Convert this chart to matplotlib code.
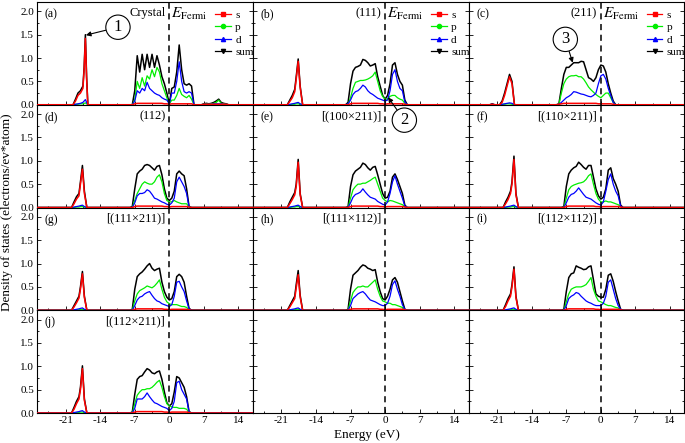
import matplotlib
matplotlib.use("Agg")
import matplotlib.pyplot as plt
from matplotlib.lines import Line2D
from matplotlib.text import Annotation
from matplotlib.ticker import MultipleLocator

plt.rcParams['font.family'] = ['Liberation Serif', 'DejaVu Serif']
plt.rcParams['mathtext.fontset'] = 'stix'
plt.rcParams['axes.unicode_minus'] = False

# ---- data (energy in eV, DOS in electrons/eV*atom) ----
# shared energy grids for the s-band peak and the valence/conduction bands
E_LOW = [-19.8, -19.3, -18.8, -18.3, -18.0, -17.6, -17.2, -16.7]
E_MAIN = [-8.0, -7.5, -7.0, -6.5, -6.0, -5.5, -5.0, -4.5, -4.0, -3.5, -3.0, -2.5, -2.0,
          -1.5, -1.0, -0.5, 0.0, 0.5, 1.0, 1.5, 2.0, 2.5, 3.0, 3.5, 4.0, 4.5]

P_LOW = [0, 0, 0.01, 0.01, 0.02, 0.02, 0.01, 0]
D_LOW = [0, 0.01, 0.02, 0.03, 0.04, 0.05, 0.02, 0]
S_MAIN = [0, 0, 0.02, 0.03, 0.03, 0.03, 0.03, 0.03, 0.03, 0.03, 0.03, 0.03, 0.03,
          0.03, 0.02, 0.02, 0.01, 0.02, 0.02, 0.02, 0.02, 0.02, 0.02, 0.02, 0.01, 0]

# (a) Crystal -- own grids
a_e_low = [-19.5, -19.0, -18.5, -18.0, -17.5, -17.25, -17.0, -16.75, -16.5]
a_sum_low = [0, 0.12, 0.25, 0.30, 0.40, 0.80, 1.50, 0.60, 0]
a_s_low = [0, 0.08, 0.20, 0.25, 0.35, 0.75, 1.42, 0.55, 0]
a_p_low = [0, 0.01, 0.01, 0.02, 0.02, 0.03, 0.04, 0.02, 0]
a_d_low = [0, 0.01, 0.02, 0.03, 0.05, 0.08, 0.11, 0.05, 0]
a_e_main = [-7.5, -7.0, -6.5, -6.0, -5.5, -5.0, -4.5, -4.0, -3.5, -3.0, -2.5, -2.0, -1.5,
            -1.0, -0.5, 0.0, 0.5, 1.0, 1.5, 2.0, 2.5, 3.0, 3.5, 4.0, 4.5, 5.0]
a_sum = [0, 0.30, 1.05, 0.70, 1.08, 0.75, 1.08, 0.80, 1.08, 0.80, 1.05, 0.85, 0.60,
         0.45, 0.25, 0.02, 0.35, 0.38, 0.70, 1.28, 0.75, 0.45, 0.42, 0.45, 0.40, 0]
a_p = [0, 0.10, 0.50, 0.35, 0.58, 0.40, 0.62, 0.55, 0.75, 0.60, 0.80, 0.70, 0.45,
       0.30, 0.15, 0.02, 0.10, 0.10, 0.20, 0.35, 0.22, 0.18, 0.15, 0.20, 0.12, 0]
a_d = [0, 0.08, 0.30, 0.25, 0.35, 0.30, 0.48, 0.35, 0.30, 0.25, 0.22, 0.20, 0.15,
       0.12, 0.10, 0.02, 0.25, 0.25, 0.50, 0.92, 0.50, 0.28, 0.25, 0.28, 0.25, 0]
a_s = [0, 0.02, 0.03, 0.03, 0.03, 0.03, 0.03, 0.03, 0.03, 0.03, 0.03, 0.03, 0.03,
       0.02, 0.02, 0.01, 0.02, 0.02, 0.02, 0.02, 0.02, 0.02, 0.02, 0.02, 0.02, 0]
a_e_high = [6.5, 7.0, 7.5, 8.0, 8.5, 9.0, 9.5, 10.0, 10.5, 11.0, 11.5, 12.0]
a_sum_high = [0, 0.02, 0.03, 0.02, 0.03, 0.05, 0.08, 0.12, 0.05, 0.03, 0.02, 0]
a_p_high = [0, 0.01, 0.02, 0.01, 0.02, 0.03, 0.05, 0.10, 0.03, 0.02, 0.01, 0]
a_d_high = [0, 0.01, 0.01, 0.01, 0.01, 0.02, 0.02, 0.02, 0.02, 0.01, 0.01, 0]
a_s_high = [0, 0.01, 0.01, 0.01, 0.01, 0.01, 0.01, 0.01, 0.01, 0.01, 0.01, 0]

# (c) (211) -- own grids
c_e_low = [-22.5, -22.0, -21.5, -20.5, -20.0, -19.5, -19.0, -18.5, -18.0, -17.5]
c_sum_low = [0, 0.02, 0, 0, 0.08, 0.25, 0.45, 0.65, 0.50, 0]
c_s_low = [0, 0.01, 0, 0, 0.05, 0.20, 0.40, 0.60, 0.45, 0]
c_p_low = [0, 0, 0, 0, 0.01, 0.01, 0.02, 0.02, 0.01, 0]
c_d_low = [0, 0.01, 0, 0, 0.01, 0.02, 0.03, 0.04, 0.03, 0]
c_e_main = [-9.0, -8.5, -8.0, -7.5, -7.0, -6.5, -6.0, -5.5, -5.0, -4.5, -4.0, -3.5, -3.0,
            -2.5, -2.0, -1.5, -1.0, -0.5, 0.0, 0.5, 1.0, 1.5, 2.0, 2.5, 3.0]
c_sum = [0, 0.02, 0.35, 0.65, 0.80, 0.80, 0.85, 0.90, 0.90, 0.90, 0.93, 0.92, 0.75,
         0.58, 0.55, 0.50, 0.58, 0.75, 0.85, 0.83, 0.70, 0.45, 0.25, 0.08, 0]
c_p = [0, 0.01, 0.25, 0.45, 0.55, 0.60, 0.62, 0.62, 0.63, 0.60, 0.60, 0.55, 0.47,
       0.38, 0.32, 0.27, 0.22, 0.18, 0.15, 0.20, 0.25, 0.25, 0.15, 0.05, 0]
c_d = [0, 0.01, 0.05, 0.10, 0.15, 0.18, 0.22, 0.28, 0.27, 0.25, 0.23, 0.22, 0.20,
       0.18, 0.17, 0.20, 0.25, 0.45, 0.62, 0.65, 0.55, 0.35, 0.20, 0.05, 0]
c_s = [0, 0.01, 0.02, 0.03, 0.03, 0.03, 0.03, 0.03, 0.03, 0.03, 0.03, 0.03, 0.03,
       0.03, 0.03, 0.03, 0.03, 0.02, 0.02, 0.02, 0.02, 0.02, 0.02, 0.01, 0]

# panels on the shared grids: sum / s in the low band, sum / p / d in the main band
b_sum_low = [0, 0.10, 0.20, 0.33, 0.60, 0.98, 0.40, 0]
b_s_low = [0, 0.07, 0.15, 0.28, 0.55, 0.93, 0.37, 0]
b_sum = [0, 0.05, 0.45, 0.72, 0.80, 0.82, 0.85, 0.97, 0.95, 0.90, 0.83, 0.85, 0.88,
         0.60, 0.40, 0.20, 0.12, 0.20, 0.45, 0.85, 0.90, 0.65, 0.50, 0.42, 0.10, 0]
b_p = [0, 0.01, 0.15, 0.35, 0.48, 0.50, 0.52, 0.52, 0.53, 0.55, 0.58, 0.62, 0.70,
       0.50, 0.30, 0.18, 0.12, 0.12, 0.18, 0.20, 0.20, 0.15, 0.12, 0.10, 0.03, 0]
b_d = [0, 0.02, 0.10, 0.22, 0.28, 0.30, 0.35, 0.42, 0.38, 0.30, 0.25, 0.22, 0.18,
       0.14, 0.12, 0.10, 0.08, 0.10, 0.30, 0.65, 0.75, 0.50, 0.35, 0.30, 0.06, 0]

d_sum_low = [0, 0.12, 0.23, 0.30, 0.55, 0.90, 0.35, 0]
d_s_low = [0, 0.08, 0.18, 0.25, 0.50, 0.82, 0.30, 0]
d_sum = [0, 0.02, 0.40, 0.72, 0.78, 0.82, 0.90, 0.92, 0.90, 0.85, 0.80, 0.88, 0.90,
         0.70, 0.40, 0.20, 0.15, 0.20, 0.35, 0.72, 0.78, 0.72, 0.68, 0.40, 0.02, 0]
d_p = [0, 0, 0.15, 0.30, 0.40, 0.50, 0.55, 0.52, 0.50, 0.50, 0.55, 0.65, 0.70,
       0.55, 0.30, 0.15, 0.12, 0.12, 0.15, 0.12, 0.10, 0.08, 0.08, 0.08, 0.01, 0]
d_d = [0, 0, 0.10, 0.25, 0.30, 0.30, 0.32, 0.38, 0.35, 0.28, 0.20, 0.18, 0.15,
       0.12, 0.10, 0.07, 0.05, 0.10, 0.20, 0.55, 0.65, 0.55, 0.45, 0.30, 0.01, 0]

e_sum_low = [0, 0.12, 0.22, 0.32, 0.50, 1.03, 0.30, 0]
e_s_low = [0, 0.08, 0.17, 0.27, 0.45, 0.97, 0.27, 0]
e_sum = [0, 0.02, 0.45, 0.70, 0.78, 0.82, 0.86, 0.95, 0.92, 0.85, 0.80, 0.86, 0.88,
         0.70, 0.50, 0.30, 0.20, 0.22, 0.35, 0.65, 0.72, 0.60, 0.45, 0.30, 0.05, 0]
e_p = [0, 0, 0.20, 0.38, 0.45, 0.50, 0.50, 0.52, 0.52, 0.55, 0.58, 0.62, 0.65,
       0.50, 0.35, 0.20, 0.15, 0.12, 0.15, 0.14, 0.12, 0.10, 0.08, 0.06, 0.02, 0]
e_d = [0, 0, 0.10, 0.22, 0.28, 0.30, 0.33, 0.40, 0.33, 0.27, 0.22, 0.20, 0.18,
       0.13, 0.10, 0.07, 0.05, 0.12, 0.30, 0.55, 0.68, 0.50, 0.35, 0.20, 0.03, 0]

f_sum_low = [0, 0.12, 0.22, 0.35, 0.55, 1.10, 0.30, 0]
f_s_low = [0, 0.08, 0.17, 0.30, 0.50, 1.03, 0.27, 0]
f_sum = [0, 0.02, 0.45, 0.72, 0.80, 0.85, 0.88, 0.97, 0.92, 0.86, 0.82, 0.90, 0.90,
         0.65, 0.40, 0.25, 0.18, 0.22, 0.40, 0.80, 0.85, 0.62, 0.50, 0.35, 0.05, 0]
f_p = [0, 0, 0.20, 0.38, 0.45, 0.48, 0.50, 0.52, 0.53, 0.55, 0.60, 0.68, 0.72,
       0.50, 0.30, 0.18, 0.12, 0.12, 0.14, 0.12, 0.12, 0.10, 0.08, 0.06, 0.02, 0]
f_d = [0, 0, 0.10, 0.22, 0.28, 0.30, 0.35, 0.42, 0.35, 0.28, 0.22, 0.20, 0.18,
       0.14, 0.10, 0.07, 0.05, 0.12, 0.35, 0.60, 0.72, 0.50, 0.35, 0.25, 0.03, 0]

g_sum_low = [0, 0.10, 0.20, 0.30, 0.50, 0.83, 0.30, 0]
g_s_low = [0, 0.07, 0.16, 0.26, 0.45, 0.78, 0.27, 0]
g_sum = [0, 0.02, 0.45, 0.72, 0.78, 0.82, 0.88, 0.95, 1.00, 0.90, 0.85, 0.88, 0.90,
         0.60, 0.40, 0.28, 0.22, 0.25, 0.40, 0.72, 0.77, 0.72, 0.60, 0.30, 0.04, 0]
g_p = [0, 0, 0.20, 0.35, 0.42, 0.45, 0.48, 0.52, 0.50, 0.48, 0.52, 0.58, 0.65,
       0.45, 0.28, 0.18, 0.14, 0.12, 0.12, 0.12, 0.10, 0.08, 0.08, 0.06, 0.02, 0]
g_d = [0, 0, 0.10, 0.22, 0.28, 0.30, 0.35, 0.38, 0.40, 0.32, 0.25, 0.20, 0.18,
       0.14, 0.12, 0.10, 0.08, 0.12, 0.30, 0.60, 0.62, 0.50, 0.40, 0.20, 0.03, 0]

h_sum_low = [0, 0.10, 0.20, 0.30, 0.55, 0.85, 0.32, 0]
h_s_low = [0, 0.07, 0.16, 0.25, 0.48, 0.76, 0.28, 0]
h_sum = [0, 0.02, 0.45, 0.75, 0.80, 0.85, 0.92, 0.97, 0.95, 0.90, 0.88, 0.85, 0.87,
         0.60, 0.40, 0.25, 0.22, 0.30, 0.45, 0.65, 0.70, 0.60, 0.40, 0.20, 0.02, 0]
h_p = [0, 0, 0.20, 0.38, 0.45, 0.50, 0.50, 0.52, 0.50, 0.50, 0.55, 0.60, 0.65,
       0.45, 0.30, 0.20, 0.18, 0.15, 0.15, 0.12, 0.12, 0.10, 0.08, 0.06, 0.02, 0]
h_d = [0, 0, 0.10, 0.25, 0.30, 0.35, 0.38, 0.40, 0.35, 0.28, 0.22, 0.20, 0.18,
       0.15, 0.12, 0.10, 0.10, 0.15, 0.30, 0.55, 0.63, 0.45, 0.30, 0.12, 0.02, 0]

i_sum_low = [0, 0.12, 0.25, 0.35, 0.55, 0.93, 0.30, 0]
i_s_low = [0, 0.08, 0.20, 0.30, 0.50, 0.88, 0.27, 0]
i_sum = [0, 0.02, 0.40, 0.70, 0.78, 0.80, 0.95, 0.92, 0.90, 0.87, 0.88, 0.93, 0.95,
         0.65, 0.35, 0.30, 0.28, 0.28, 0.45, 0.75, 0.78, 0.62, 0.40, 0.20, 0.02, 0]
i_p = [0, 0, 0.18, 0.35, 0.45, 0.48, 0.50, 0.50, 0.50, 0.52, 0.55, 0.62, 0.70,
       0.45, 0.30, 0.20, 0.18, 0.15, 0.12, 0.10, 0.10, 0.08, 0.06, 0.05, 0.02, 0]
i_d = [0, 0, 0.10, 0.25, 0.30, 0.33, 0.38, 0.36, 0.30, 0.25, 0.20, 0.17, 0.15,
       0.12, 0.10, 0.10, 0.10, 0.15, 0.30, 0.60, 0.65, 0.45, 0.25, 0.10, 0.02, 0]

j_sum_low = [0, 0.12, 0.25, 0.35, 0.55, 1.01, 0.30, 0]
j_s_low = [0, 0.08, 0.20, 0.30, 0.50, 0.95, 0.27, 0]
j_sum = [0, 0.02, 0.40, 0.72, 0.78, 0.80, 0.88, 0.95, 0.92, 0.86, 0.84, 0.88, 0.90,
         0.72, 0.45, 0.22, 0.15, 0.20, 0.45, 0.78, 0.75, 0.65, 0.55, 0.35, 0.03, 0]
j_p = [0, 0, 0.20, 0.38, 0.45, 0.50, 0.50, 0.52, 0.52, 0.55, 0.60, 0.66, 0.70,
       0.55, 0.35, 0.20, 0.15, 0.13, 0.12, 0.12, 0.10, 0.10, 0.10, 0.08, 0.02, 0]
j_d = [0, 0, 0.10, 0.30, 0.30, 0.30, 0.35, 0.43, 0.35, 0.28, 0.22, 0.20, 0.17,
       0.14, 0.12, 0.10, 0.05, 0.10, 0.25, 0.65, 0.68, 0.50, 0.40, 0.30, 0.02, 0]

panel_tags = ['(a)', '(b)', '(c)', '(d)', '(e)', '(f)', '(g)', '(h)', '(i)', '(j)']
panel_titles = ['Crystal', '(111)', '(211)', '(112)', '[(100×211)]', '[(110×211)]',
                '[(111×211)]', '[(111×112)]', '[(112×112)]', '[(112×211)]']

XMIN, XMAX = -26.8, 16.9
COLORS = {'s': '#ff0000', 'p': '#00ee00', 'd': '#0000ff', 'sum': '#000000'}


def seg(*parts):
    # join band segments into one curve that sits at zero elsewhere
    xs, ys = [XMIN], [0.0]
    for e, v in parts:
        xs += list(e)
        ys += list(v)
    xs.append(XMAX)
    ys.append(0.0)
    return xs, ys


curves = {
    '(a)': dict(sum=seg((a_e_low, a_sum_low), (a_e_main, a_sum), (a_e_high, a_sum_high)),
                s=seg((a_e_low, a_s_low), (a_e_main, a_s), (a_e_high, a_s_high)),
                p=seg((a_e_low, a_p_low), (a_e_main, a_p), (a_e_high, a_p_high)),
                d=seg((a_e_low, a_d_low), (a_e_main, a_d), (a_e_high, a_d_high))),
    '(c)': dict(sum=seg((c_e_low, c_sum_low), (c_e_main, c_sum)),
                s=seg((c_e_low, c_s_low), (c_e_main, c_s)),
                p=seg((c_e_low, c_p_low), (c_e_main, c_p)),
                d=seg((c_e_low, c_d_low), (c_e_main, c_d))),
}
shared = {'(b)': (b_sum_low, b_s_low, b_sum, b_p, b_d),
          '(d)': (d_sum_low, d_s_low, d_sum, d_p, d_d),
          '(e)': (e_sum_low, e_s_low, e_sum, e_p, e_d),
          '(f)': (f_sum_low, f_s_low, f_sum, f_p, f_d),
          '(g)': (g_sum_low, g_s_low, g_sum, g_p, g_d),
          '(h)': (h_sum_low, h_s_low, h_sum, h_p, h_d),
          '(i)': (i_sum_low, i_s_low, i_sum, i_p, i_d),
          '(j)': (j_sum_low, j_s_low, j_sum, j_p, j_d)}
for tag, (sl, ssl, sm, pm, dm) in shared.items():
    curves[tag] = dict(sum=seg((E_LOW, sl), (E_MAIN, sm)),
                       s=seg((E_LOW, ssl), (E_MAIN, S_MAIN)),
                       p=seg((E_LOW, P_LOW), (E_MAIN, pm)),
                       d=seg((E_LOW, D_LOW), (E_MAIN, dm)))

# ---- figure ----
fig = plt.figure(figsize=(6.85, 4.43), dpi=100)
gs = fig.add_gridspec(4, 3, left=0.054, right=0.999, top=0.9955, bottom=0.0677,
                      wspace=0, hspace=0)

axes = []
for k in range(12):
    r, c = divmod(k, 3)
    ax = fig.add_subplot(gs[r, c])
    axes.append(ax)
    ax.set_xlim(XMIN, XMAX)
    ax.set_ylim(0, 2.2)
    ax.xaxis.set_major_locator(MultipleLocator(7))
    ax.xaxis.set_minor_locator(MultipleLocator(3.5))
    ax.yaxis.set_major_locator(MultipleLocator(0.5))
    ax.yaxis.set_minor_locator(MultipleLocator(0.25))
    ax.tick_params(which='both', direction='in', right=True, top=False, labelsize=8,
                   width=0.6, pad=2)
    ax.tick_params(which='major', length=3)
    ax.tick_params(which='minor', length=1.5)
    for sp in ax.spines.values():
        sp.set_linewidth(0.8)
    if c != 0:
        ax.tick_params(labelleft=False)
    if r != 3:
        ax.tick_params(labelbottom=False)
    ax.axvline(0, color='black', ls=(0, (4, 3)), lw=1.1, zorder=5)

    if k >= 10:
        continue
    tag = panel_tags[k]
    cv = curves[tag]
    ax.plot(*cv['sum'], color=COLORS['sum'], lw=1.1, zorder=2)
    ax.plot(*cv['p'], color=COLORS['p'], lw=0.9, zorder=3)
    ax.plot(*cv['d'], color=COLORS['d'], lw=0.9, zorder=3)
    ax.plot(*cv['s'], color=COLORS['s'], lw=1.1, zorder=4)

    ax.text(0.035, 0.94, tag, transform=ax.transAxes, va='top', ha='left', fontsize=8.5)
    ax.text(-0.8, 2.2 * 0.95, panel_titles[k], va='top', ha='right', fontsize=9)

    if k < 3:
        ax.text(0.4, 2.2 * 0.96, r'$E_{\rm Fermi}$', va='top', ha='left', fontsize=11)
        handles = [Line2D([], [], color=COLORS[n], marker=m, ms=3, lw=0.9)
                   for n, m in (('s', 's'), ('p', 'o'), ('d', '^'), ('sum', 'v'))]
        ax.legend(handles, ['s', 'p', 'd', 'sum'], loc='upper left',
                  bbox_to_anchor=(0.79, 1.0), frameon=False, fontsize=8,
                  handlelength=1.4, handletextpad=0.4, labelspacing=0.25,
                  borderaxespad=0.3)

fig.text(0.010, 0.52, 'Density of states (electrons/ev*atom)', rotation=90,
         ha='center', va='center', fontsize=9.5)
fig.text(0.535, 0.004, 'Energy (eV)', ha='center', va='bottom', fontsize=9.5)

# circled markers with arrows, drawn on the figure so they stay above neighbours
marks = [(axes[0], '1', (-16.9, 1.49), (-10.4, 1.66)),
         (axes[1], '2', (0.6, 0.16), (3.9, -0.33)),
         (axes[2], '3', (-5.7, 0.90), (-7.2, 1.40))]
for ax, num, tip, ctr in marks:
    ann = Annotation(num, xy=tip, xycoords=ax.transData, xytext=ctr,
                     textcoords=ax.transData, ha='center', va='center', fontsize=12,
                     bbox=dict(boxstyle='circle,pad=0.25', fc='white', ec='black', lw=0.8),
                     arrowprops=dict(arrowstyle='-|>', color='black', lw=0.8,
                                     mutation_scale=7, shrinkA=0, shrinkB=0))
    fig.add_artist(ann)

fig.savefig('out.png', dpi=100)
